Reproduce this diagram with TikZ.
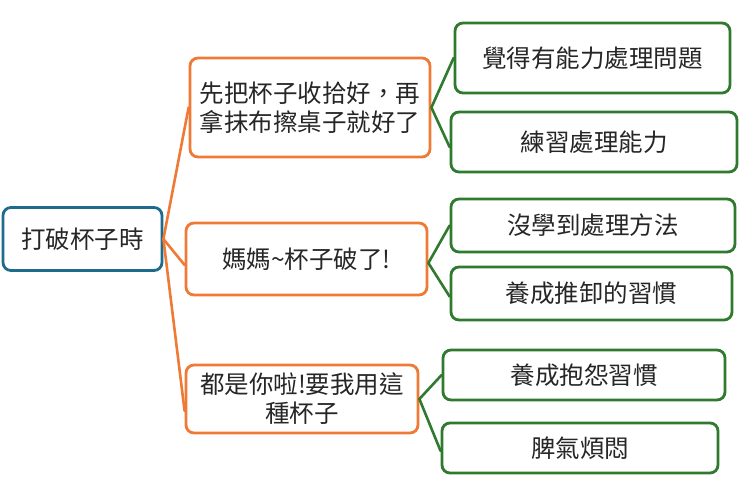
\documentclass[tikz,border=0pt]{standalone}
\usepackage{fontspec}
\setmainfont{Noto Sans CJK TC}
\definecolor{rootblue}{HTML}{1E6B8C}
\definecolor{brorange}{HTML}{EE7A35}
\definecolor{leafgreen}{HTML}{2F7A2F}
\tikzset{
  box/.style={draw, line width=2.8pt, rounded corners=8pt, fill=white, align=center, inner sep=0pt, font=\fontsize{24.5}{29}\selectfont, text=black!85},
  rootbox/.style={box, draw=rootblue},
  brbox/.style={box, draw=brorange},
  leafbox/.style={box, draw=leafgreen},
  brline/.style={draw=brorange, line width=2.6pt, line cap=round},
  leafline/.style={draw=leafgreen, line width=2.6pt, line cap=round},
}
\begin{document}
\begin{tikzpicture}[x=1pt,y=-1pt]
\useasboundingbox (0,0) rectangle (740,480);
\node[rootbox, minimum width=159pt, minimum height=63pt] (root) at (82.5,239) {打破杯子時};
\node[brbox, minimum width=240pt, minimum height=99pt] (b1) at (310,107.5) {先把杯子收拾好，再\\拿抹布擦桌子就好了};
\node[brbox, minimum width=241pt, minimum height=72pt] (b2) at (306.5,259) {媽媽\textasciitilde 杯子破了!};
\node[brbox, minimum width=232pt, minimum height=68pt] (b3) at (302,399) {都是你啦!要我用這\\種杯子};
\node[leafbox, minimum width=275pt, minimum height=70pt] (l1) at (592.5,58) {覺得有能力處理問題};
\node[leafbox, minimum width=286pt, minimum height=60pt] (l2) at (594,142) {練習處理能力};
\node[leafbox, minimum width=284pt, minimum height=53pt] (l3) at (593,225.5) {沒學到處理方法};
\node[leafbox, minimum width=281pt, minimum height=53pt] (l4) at (591.5,293.5) {養成推卸的習慣};
\node[leafbox, minimum width=282pt, minimum height=50pt] (l5) at (584,375) {養成抱怨習慣};
\node[leafbox, minimum width=276pt, minimum height=50pt] (l6) at (580,448) {脾氣煩悶};
\draw[brline] (root.east) -- (b1.west);
\draw[brline] (root.east) -- ([yshift=-6pt]b2.west);
\draw[brline] (root.east) -- ([yshift=-12pt]b3.west);
\draw[leafline] (b1.east) -- (l1.west);
\draw[leafline] (b1.east) -- ([yshift=-5pt]l2.west);
\draw[leafline] ([yshift=-4pt]b2.east) -- (l3.west);
\draw[leafline] ([yshift=-4pt]b2.east) -- ([yshift=-3pt]l4.west);
\draw[leafline] (b3.east) -- (l5.west);
\draw[leafline] (b3.east) -- ([yshift=-3pt]l6.west);
\end{tikzpicture}
\end{document}
